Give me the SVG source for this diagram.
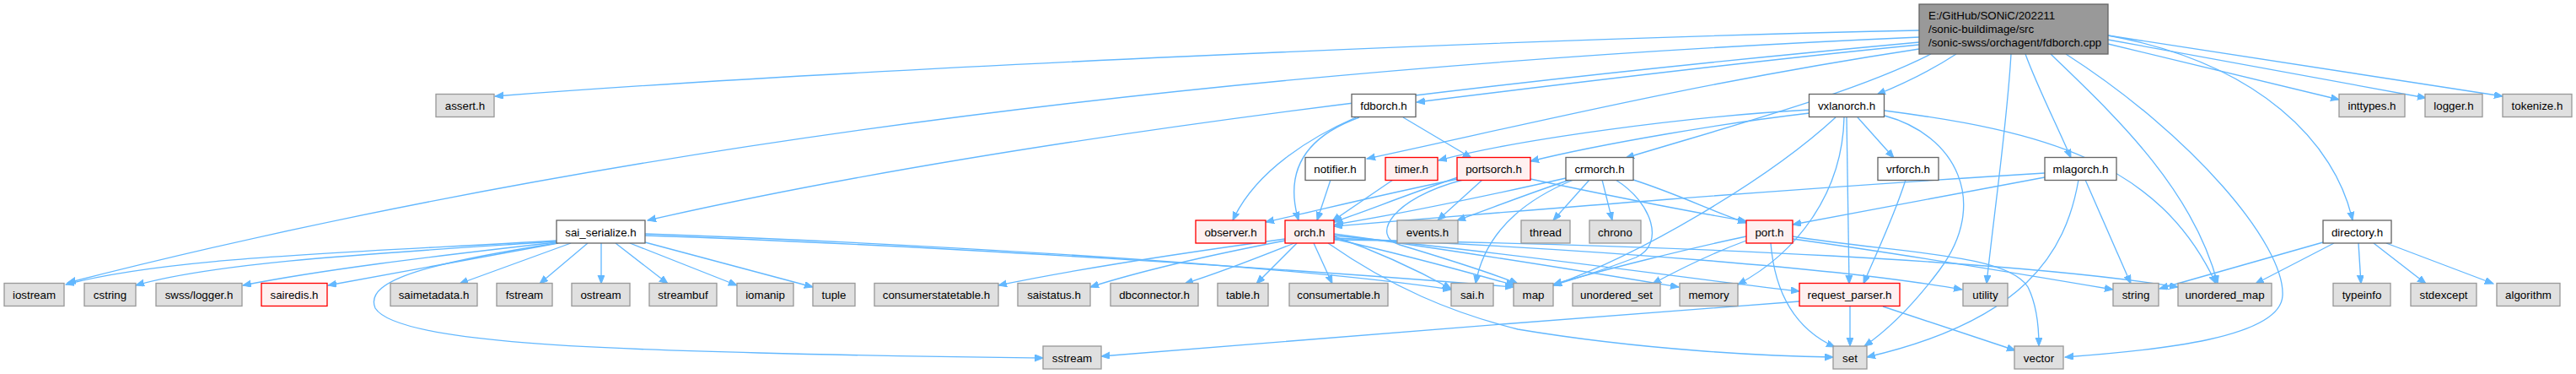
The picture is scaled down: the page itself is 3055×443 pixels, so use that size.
<svg xmlns="http://www.w3.org/2000/svg" width="3055" height="443" viewBox="0 0 3055 443">
<defs>
<marker id="a" markerUnits="userSpaceOnUse" markerWidth="11" markerHeight="9" refX="10" refY="4" orient="auto">
<path d="M0,0 L10,4 L0,8 Z" fill="#63b8ff" stroke="#63b8ff" stroke-width="1"/>
</marker>
<style>
rect{stroke-width:1.33}
.w rect{fill:#fff;stroke:#666}
.g rect{fill:#e0e0e0;stroke:#999}
.r rect{fill:#fff0f0;stroke:#f00}
.m rect{fill:#999;stroke:#666}
text{font-family:"Liberation Sans",Arial,Helvetica,sans-serif;font-size:13.33px;text-anchor:middle;fill:#000}
.m text{text-anchor:start}
#edges path{fill:none;stroke:#63b8ff;stroke-width:1.33;marker-end:url(#a)}
</style>
</defs>
<rect width="3055" height="443" fill="#fff"/>
<g id="edges">
<path d="M2276,36 C1800,46 1000,82 587,114"/>
<path d="M2276,44 Q1000,100 80,335"/>
<path d="M2276,50 Q1300,140 768,261"/>
<path d="M2276,53 C2100,70 1850,100 1680,121"/>
<path d="M2276,58 C2000,100 1800,150 1621,188"/>
<path d="M2290,64 C2200,110 2050,150 1928,187"/>
<path d="M2320,64 Q2280,90 2226,112"/>
<path d="M2402,64 C2415,100 2440,150 2456,187"/>
<path d="M2385,64 C2380,150 2365,250 2356,336"/>
<path d="M2432,64 C2500,130 2600,220 2630,336"/>
<path d="M2450,64 C2600,160 2710,290 2707,350 C2705,400 2560,415 2449,423"/>
<path d="M2500,42 C2680,75 2770,170 2790,261"/>
<path d="M2500,52 L2774,118"/>
<path d="M2500,47 L2877,116"/>
<path d="M2500,42 L2968,114"/>
<path d="M1664,139 L1745,187"/>
<path d="M1608,139 C1560,160 1490,200 1462,261"/>
<path d="M1612,139 C1540,165 1525,210 1540,261"/>
<path d="M2146,130 C2000,138 1800,165 1706,190"/>
<path d="M2146,134 C2050,145 1900,170 1815,191"/>
<path d="M2177,139 C2100,210 1950,300 1842,338"/>
<path d="M2190,139 L2193,336"/>
<path d="M2187,139 C2185,230 2130,300 2061,337"/>
<path d="M2203,139 L2246,187"/>
<path d="M2235,137 C2320,160 2360,240 2300,320 C2270,360 2240,390 2211,410"/>
<path d="M2235,131 C2420,155 2560,190 2628,336"/>
<path d="M1857,211 C1750,235 1650,255 1583,266"/>
<path d="M1862,213 C1810,230 1760,250 1728,261"/>
<path d="M1885,213 L1842,261"/>
<path d="M1900,213 L1912,261"/>
<path d="M1866,213 C1800,240 1760,280 1750,336"/>
<path d="M1916,213 C1960,240 1975,290 1940,305 C1900,320 1870,330 1842,338"/>
<path d="M1937,213 C1990,230 2030,250 2071,264"/>
<path d="M1729,212 C1640,230 1560,250 1501,263"/>
<path d="M1729,210 C1670,230 1620,250 1582,263"/>
<path d="M1758,213 L1705,261"/>
<path d="M1815,212 C1900,230 2000,250 2071,262"/>
<path d="M1735,213 C1650,235 1625,280 1660,290 C1700,302 1760,320 1800,336"/>
<path d="M1652,213 L1580,262"/>
<path d="M1578,213 L1562,261"/>
<path d="M2260,213 C2245,260 2225,300 2210,336"/>
<path d="M2425,205 C2100,225 1800,250 1582,268"/>
<path d="M2425,210 L2126,266"/>
<path d="M2465,213 C2450,300 2400,380 2214,423"/>
<path d="M2473,213 L2527,336"/>
<path d="M2100,288 C2105,350 2130,390 2176,411"/>
<path d="M2071,280 C2000,295 1900,320 1842,337"/>
<path d="M2071,285 C2030,300 1990,320 1960,336"/>
<path d="M2126,280 C2250,300 2380,300 2405,340 C2415,360 2418,385 2418,410"/>
<path d="M2126,283 C2250,300 2400,325 2506,343"/>
<path d="M1582,277 C1750,300 1900,325 1991,340"/>
<path d="M1582,279 C1800,300 2000,330 2134,345"/>
<path d="M1582,282 C1900,295 2200,320 2327,343"/>
<path d="M1582,284 C2000,290 2400,310 2583,340"/>
<path d="M1575,288 C1650,340 1720,370 1800,390 C1950,415 2100,422 2174,423"/>
<path d="M1582,280 C1640,300 1690,325 1721,342"/>
<path d="M1582,283 C1680,305 1750,325 1796,338"/>
<path d="M1558,288 L1580,336"/>
<path d="M1538,288 L1490,336"/>
<path d="M1535,288 C1480,310 1440,325 1405,336"/>
<path d="M1524,285 C1420,305 1340,325 1293,340"/>
<path d="M1524,283 C1400,300 1270,320 1184,338"/>
<path d="M677,288 L545,336"/>
<path d="M697,288 L640,336"/>
<path d="M713,288 L713,336"/>
<path d="M730,288 L792,336"/>
<path d="M747,288 L874,338"/>
<path d="M765,287 L964,340"/>
<path d="M765,277 C1000,285 1500,310 1721,343"/>
<path d="M765,279 C1100,290 1550,320 1795,340"/>
<path d="M660,285 C400,300 200,305 78,337"/>
<path d="M660,286 C450,300 260,310 161,338"/>
<path d="M660,287 C500,305 380,320 288,338"/>
<path d="M662,288 L389,338"/>
<path d="M660,288 C520,310 430,330 445,365 C470,405 700,413 900,418 C1050,422 1150,423 1237,424"/>
<path d="M2194,363 L2194,410"/>
<path d="M2233,363 L2390,415"/>
<path d="M2134,357 C1900,375 1500,405 1306,422"/>
<path d="M2755,287 L2561,342"/>
<path d="M2768,288 L2675,336"/>
<path d="M2797,288 L2800,336"/>
<path d="M2815,288 L2877,336"/>
<path d="M2830,288 L2957,336"/>
</g>
<g id="n_main" class="m"><rect x="2276" y="5" width="224" height="59"/><text x="2287" y="22.5">E:/GitHub/SONiC/202211</text><text x="2287" y="38.5">/sonic-buildimage/src</text><text x="2287" y="54.5">/sonic-swss/orchagent/fdborch.cpp</text></g>
<g id="n_assert" class="g"><rect x="517" y="111.5" width="69" height="27"/><text x="551.5" y="130">assert.h</text></g>
<g id="n_fdborch" class="w"><rect x="1603" y="111.5" width="76" height="27"/><text x="1641" y="130">fdborch.h</text></g>
<g id="n_vxlanorch" class="w"><rect x="2145.5" y="111.5" width="89" height="27"/><text x="2190" y="130">vxlanorch.h</text></g>
<g id="n_inttypes" class="g"><rect x="2774" y="111.5" width="78" height="27"/><text x="2813" y="130">inttypes.h</text></g>
<g id="n_logger" class="g"><rect x="2876" y="111.5" width="68" height="27"/><text x="2910" y="130">logger.h</text></g>
<g id="n_tokenize" class="g"><rect x="2968" y="111.5" width="82" height="27"/><text x="3009" y="130">tokenize.h</text></g>
<g id="n_notifier" class="w"><rect x="1548" y="186.5" width="71" height="27"/><text x="1583.5" y="205">notifier.h</text></g>
<g id="n_timer" class="r"><rect x="1643" y="186.5" width="62" height="27"/><text x="1674" y="205">timer.h</text></g>
<g id="n_portsorch" class="r"><rect x="1728" y="186.5" width="87" height="27"/><text x="1771.5" y="205">portsorch.h</text></g>
<g id="n_crmorch" class="w"><rect x="1857" y="186.5" width="80" height="27"/><text x="1897" y="205">crmorch.h</text></g>
<g id="n_vrforch" class="w"><rect x="2227" y="186.5" width="72" height="27"/><text x="2263" y="205">vrforch.h</text></g>
<g id="n_mlagorch" class="w"><rect x="2425" y="186.5" width="85" height="27"/><text x="2467.5" y="205">mlagorch.h</text></g>
<g id="n_sai_serialize" class="w"><rect x="660" y="261" width="105" height="27"/><text x="712.5" y="279.5">sai_serialize.h</text></g>
<g id="n_observer" class="r"><rect x="1418" y="261" width="83" height="27"/><text x="1459.5" y="279.5">observer.h</text></g>
<g id="n_orch" class="r"><rect x="1524" y="261" width="58" height="27"/><text x="1553" y="279.5">orch.h</text></g>
<g id="n_events" class="g"><rect x="1657" y="261" width="72" height="27"/><text x="1693" y="279.5">events.h</text></g>
<g id="n_thread" class="g"><rect x="1804" y="261" width="58" height="27"/><text x="1833" y="279.5">thread</text></g>
<g id="n_chrono" class="g"><rect x="1885" y="261" width="61" height="27"/><text x="1915.5" y="279.5">chrono</text></g>
<g id="n_port" class="r"><rect x="2071" y="261" width="55" height="27"/><text x="2098.5" y="279.5">port.h</text></g>
<g id="n_directory" class="w"><rect x="2755" y="261" width="81" height="27"/><text x="2795.5" y="279.5">directory.h</text></g>
<g id="n_iostream" class="g"><rect x="5" y="335.5" width="71" height="27"/><text x="40.5" y="354">iostream</text></g>
<g id="n_cstring" class="g"><rect x="100" y="335.5" width="61" height="27"/><text x="130.5" y="354">cstring</text></g>
<g id="n_swsslogger" class="g"><rect x="185" y="335.5" width="102" height="27"/><text x="236" y="354">swss/logger.h</text></g>
<g id="n_sairedis" class="r"><rect x="310" y="335.5" width="78" height="27"/><text x="349" y="354">sairedis.h</text></g>
<g id="n_saimetadata" class="g"><rect x="463" y="335.5" width="103" height="27"/><text x="514.5" y="354">saimetadata.h</text></g>
<g id="n_fstream" class="g"><rect x="589" y="335.5" width="66" height="27"/><text x="622" y="354">fstream</text></g>
<g id="n_ostream" class="g"><rect x="678" y="335.5" width="69" height="27"/><text x="712.5" y="354">ostream</text></g>
<g id="n_streambuf" class="g"><rect x="770" y="335.5" width="80" height="27"/><text x="810" y="354">streambuf</text></g>
<g id="n_iomanip" class="g"><rect x="874" y="335.5" width="67" height="27"/><text x="907.5" y="354">iomanip</text></g>
<g id="n_tuple" class="g"><rect x="964" y="335.5" width="50" height="27"/><text x="989" y="354">tuple</text></g>
<g id="n_consumerstatetable" class="g"><rect x="1037" y="335.5" width="147" height="27"/><text x="1110.5" y="354">consumerstatetable.h</text></g>
<g id="n_saistatus" class="g"><rect x="1207" y="335.5" width="86" height="27"/><text x="1250" y="354">saistatus.h</text></g>
<g id="n_dbconnector" class="g"><rect x="1317" y="335.5" width="104" height="27"/><text x="1369" y="354">dbconnector.h</text></g>
<g id="n_table" class="g"><rect x="1444" y="335.5" width="60" height="27"/><text x="1474" y="354">table.h</text></g>
<g id="n_consumertable" class="g"><rect x="1529" y="335.5" width="117" height="27"/><text x="1587.5" y="354">consumertable.h</text></g>
<g id="n_sai" class="g"><rect x="1721" y="335.5" width="50" height="27"/><text x="1746" y="354">sai.h</text></g>
<g id="n_map" class="g"><rect x="1795" y="335.5" width="47" height="27"/><text x="1818.5" y="354">map</text></g>
<g id="n_unordered_set" class="g"><rect x="1865" y="335.5" width="104" height="27"/><text x="1917" y="354">unordered_set</text></g>
<g id="n_memory" class="g"><rect x="1992" y="335.5" width="69" height="27"/><text x="2026.5" y="354">memory</text></g>
<g id="n_request_parser" class="r"><rect x="2134" y="335.5" width="119" height="27"/><text x="2193.5" y="354">request_parser.h</text></g>
<g id="n_utility" class="g"><rect x="2328" y="335.5" width="53" height="27"/><text x="2354.5" y="354">utility</text></g>
<g id="n_string" class="g"><rect x="2506" y="335.5" width="54" height="27"/><text x="2533" y="354">string</text></g>
<g id="n_unordered_map" class="g"><rect x="2583" y="335.5" width="111" height="27"/><text x="2638.5" y="354">unordered_map</text></g>
<g id="n_typeinfo" class="g"><rect x="2767" y="335.5" width="68" height="27"/><text x="2801" y="354">typeinfo</text></g>
<g id="n_stdexcept" class="g"><rect x="2859" y="335.5" width="78" height="27"/><text x="2898" y="354">stdexcept</text></g>
<g id="n_algorithm" class="g"><rect x="2961" y="335.5" width="75" height="27"/><text x="2998.5" y="354">algorithm</text></g>
<g id="n_sstream" class="g"><rect x="1237" y="410" width="69" height="27"/><text x="1271.5" y="428.5">sstream</text></g>
<g id="n_set" class="g"><rect x="2174" y="410" width="40" height="27"/><text x="2194" y="428.5">set</text></g>
<g id="n_vector" class="g"><rect x="2389" y="410" width="58" height="27"/><text x="2418" y="428.5">vector</text></g>
</svg>
